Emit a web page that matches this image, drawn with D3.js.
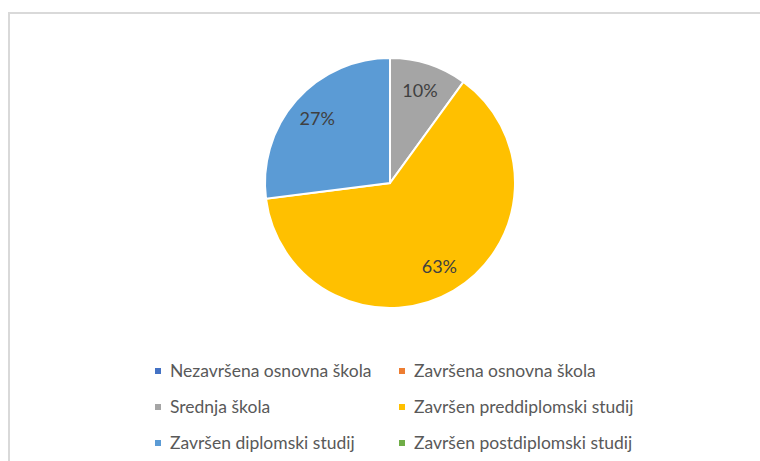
<!DOCTYPE html>
<html>
<head>
<meta charset="utf-8">
<script src="https://cdn.jsdelivr.net/npm/d3@7"></script>
<style>
  body { margin: 0; background: #fff; }
  svg { display: block; font-family: Lato, "Open Sans", sans-serif; }
</style>
</head>
<body>
<div id="chart"></div>
<script>
// data
const categories = [
    'Nezavršena osnovna škola',
    'Završena osnovna škola',
    'Srednja škola',
    'Završen preddiplomski studij',
    'Završen diplomski studij',
    'Završen postdiplomski studij'
]
const values = [0, 0, 10, 63, 27, 0]
const colors = ['#4472C4', '#ED7D31', '#A5A5A5', '#FFC000', '#5B9BD5', '#70AD47']

const dimension = {
    width: 760,
    height: 461
}
const cx = 390
const cy = 183
const radius = 125

const svg = d3.select('#chart')
    .append('svg')
    .attr('width', dimension.width)
    .attr('height', dimension.height)

// chart frame (runs off the right and bottom)
svg.append('rect')
    .attr('x', 9)
    .attr('y', 13)
    .attr('width', 800)
    .attr('height', 500)
    .attr('fill', 'none')
    .attr('stroke', '#d9d9d9')
    .attr('stroke-width', 2)

const data = categories.map((c, i) => ({ name: c, value: values[i], color: colors[i] }))

const pie = d3.pie()
    .value(d => d.value)
    .sort(null)
const slices = pie(data)

const arc = d3.arc()
    .outerRadius(radius)
    .innerRadius(0)
const arcLabel = d3.arc()
    .outerRadius(97)
    .innerRadius(97)

const pieGroup = svg.append('g')
    .attr('transform', `translate(${cx}, ${cy})`)

pieGroup.selectAll('path')
    .data(slices.filter(d => d.value > 0))
    .join('path')
    .attr('d', arc)
    .attr('fill', d => d.data.color)
    .attr('stroke', '#fff')
    .attr('stroke-width', 2)

const total = d3.sum(values)
pieGroup.selectAll('text')
    .data(slices.filter(d => d.value > 0))
    .join('text')
    .attr('transform', d => `translate(${arcLabel.centroid(d)})`)
    .attr('text-anchor', 'middle')
    .attr('dy', '0.35em')
    .attr('fill', '#404040')
    .style('font-size', '18px')
    .text(d => Math.round(d.data.value / total * 100) + '%')

// legend
const colX = d3.scaleOrdinal().domain([0, 1]).range([155, 399])
const rowY = d3.scaleLinear().domain([0, 2]).range([371, 443])

const legend = svg.append('g')
const item = legend.selectAll('g')
    .data(data)
    .join('g')
    .attr('transform', (d, i) => `translate(${colX(i % 2)}, ${rowY(Math.floor(i / 2))})`)

item.append('rect')
    .attr('x', 0)
    .attr('y', -3)
    .attr('width', 6)
    .attr('height', 6)
    .attr('fill', d => d.color)

item.append('text')
    .attr('x', 15)
    .attr('dy', '0.35em')
    .attr('fill', '#595959')
    .style('font-size', '17.5px')
    .text(d => d.name)
</script>
</body>
</html>
